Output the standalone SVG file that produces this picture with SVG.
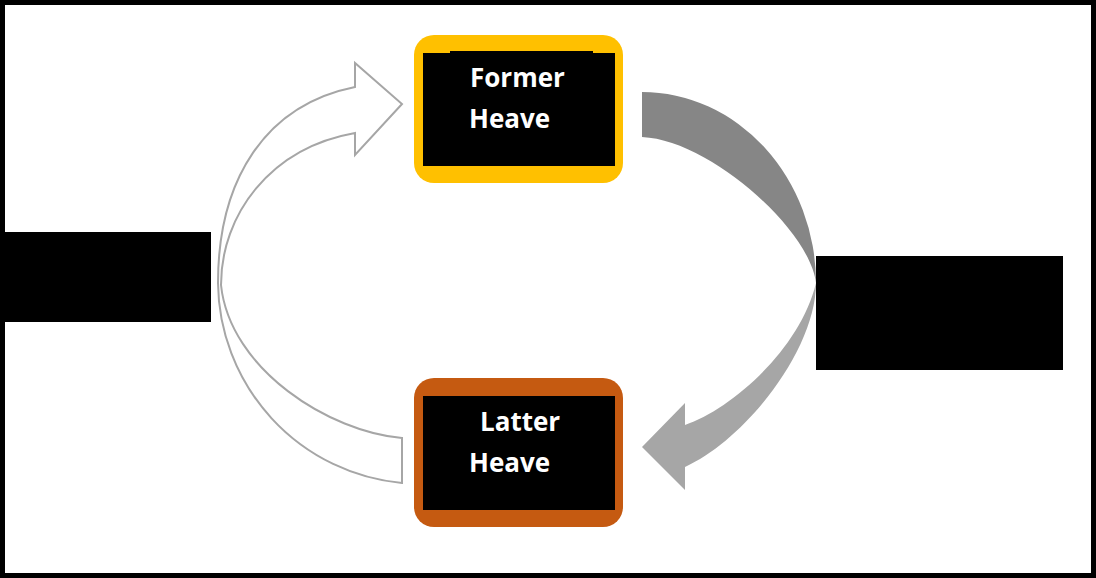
<svg xmlns="http://www.w3.org/2000/svg" width="1096" height="578" viewBox="0 0 1096 578">
  <style>
    .label { font-family: "Open Sans", "Liberation Sans", sans-serif; font-weight: 700; font-size: 26px; fill: #FFFFFF; }
    .panel { fill: #000000; }
    .loop-out { fill: #FFFFFF; stroke: #A6A6A6; stroke-width: 2; stroke-linejoin: miter; }
  </style>

  <!-- page background and frame -->
  <rect x="0" y="0" width="1096" height="578" fill="#FFFFFF"/>
  <rect x="2.5" y="2.5" width="1091" height="573" fill="none" stroke="#000000" stroke-width="5"/>

  <!-- connectors -->
  <g id="connectors">
    <!-- outlined return arrow: Latter Heave back up to Former Heave -->
    <path class="loop-out" d="M402,483 L402,438 C330,432 230,370 221,285 C221,215 270,148 355,133 L355,155 L402,104 L355,63 L355,87 C265,105 218,180 218,283 A203,203 0 0 0 402,483 Z"/>
    <!-- solid arrow: Former Heave down to Latter Heave (darker upper half) -->
    <path fill="#868686" d="M642,92 A174,191 0 0 1 816,283 C810,230 710,140 642,137 Z"/>
    <!-- lighter lower half with arrowhead -->
    <path fill="#A6A6A6" d="M816,283 C816,350 745,440 685,467 L685,490 L642,447 L685,403 L685,425 C730,410 800,350 816,283 Z"/>
  </g>

  <!-- side panels -->
  <g id="panel-left">
    <rect class="panel" x="0" y="232" width="211" height="90"/>
  </g>
  <g id="panel-right">
    <rect class="panel" x="816" y="256" width="247" height="114"/>
  </g>

  <!-- nodes -->
  <g id="node-former">
    <rect x="414" y="35" width="209" height="148" rx="20" ry="20" fill="#FFC000"/>
    <rect class="panel" x="423" y="53" width="192" height="113"/>
    <rect class="panel" x="450" y="51" width="143" height="3"/>
    <text class="label" x="470" y="87">Former</text>
    <text class="label" x="469" y="128">Heave</text>
  </g>

  <g id="node-latter">
    <rect x="414" y="378" width="209" height="149" rx="20" ry="20" fill="#C55A11"/>
    <rect class="panel" x="423" y="396" width="192" height="114"/>
    <text class="label" x="480" y="431">Latter</text>
    <text class="label" x="469" y="472">Heave</text>
  </g>
</svg>
